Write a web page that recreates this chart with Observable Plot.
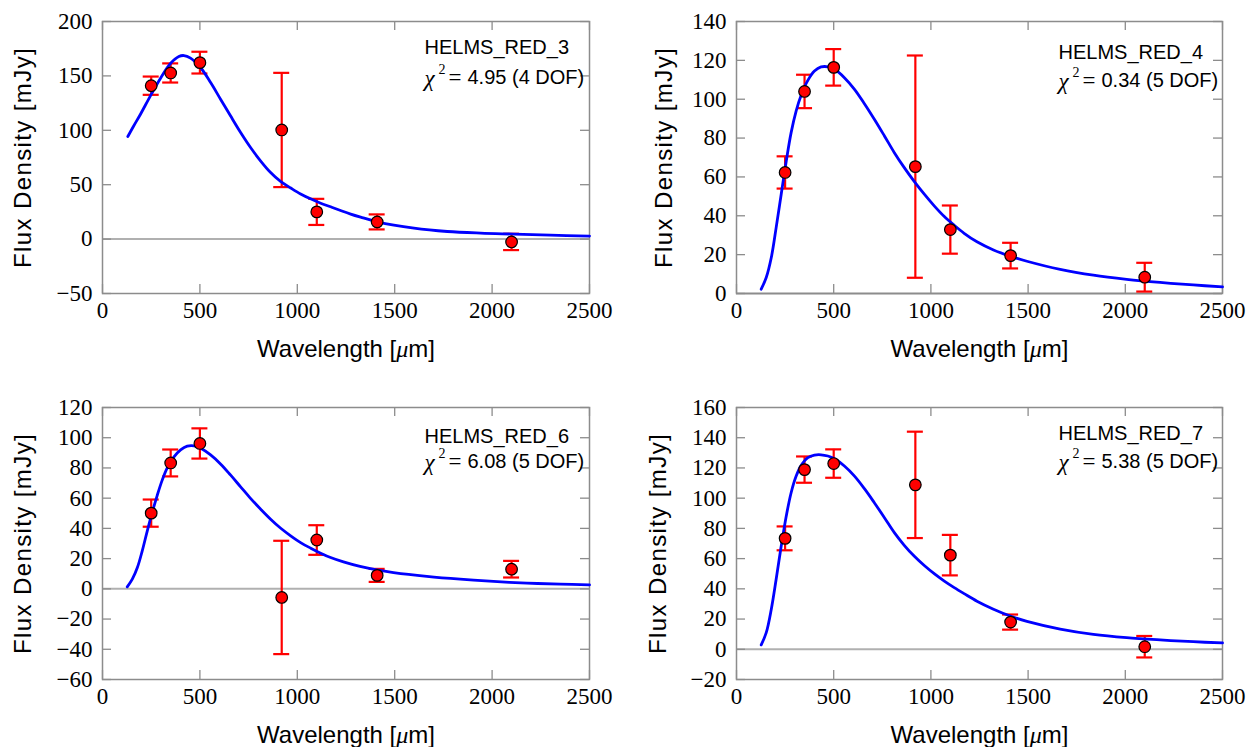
<!DOCTYPE html>
<html><head><meta charset="utf-8">
<script src="https://cdn.jsdelivr.net/npm/d3@7"></script>
<script src="https://cdn.jsdelivr.net/npm/@observablehq/plot@0.6"></script>
<style>
body{margin:0;background:#fff;}
#grid{display:grid;grid-template-columns:626px 627px;grid-template-rows:386px 361px;width:1253px;height:747px;}
#grid svg{display:block;}
</style></head><body><div id="grid"></div><script>
// ---- data ----
const wavelengths = [250, 350, 500, 920, 1100, 1410, 2100];
const xTicks = [0, 500, 1000, 1500, 2000, 2500];

const names = ["HELMS_RED_3", "HELMS_RED_4", "HELMS_RED_6", "HELMS_RED_7"];
const chiValues = ["4.95 (4 DOF)", "0.34 (5 DOF)", "6.08 (5 DOF)", "5.38 (5 DOF)"];

const flux3 = [141, 152.7, 162.2, 100.3, 25, 15.8, -2.6];
const err3 = [8.4, 8.8, 10, 52.5, 12, 6.9, 7.5];
const flux4 = [62.3, 104, 116.4, 65.3, 32.9, 19.5, 8.4];
const err4 = [8.3, 8.6, 9.4, 57.2, 12.4, 6.6, 7.4];
const flux6 = [50.1, 83.3, 96.2, -5.7, 32.3, 8.9, 13];
const err6 = [9, 8.9, 10, 37.5, 9.8, 4.3, 5.5];
const flux7 = [73.4, 118.9, 122.9, 108.8, 62.3, 18, 1.7];
const err7 = [7.9, 8.7, 9.4, 35.2, 13.4, 5, 7.1];

const modelWl3 = [130, 160, 195, 246, 298, 349, 392, 418, 452, 503, 555, 606, 657, 709, 760, 811, 863, 914, 966, 1017, 1068, 1120, 1171, 1222, 1274, 1325, 1411, 1599, 1770, 1941, 2113, 2300, 2500];
const model3 = [94.3, 104, 114.8, 131.7, 147.9, 161.4, 167.8, 168.7, 166.3, 157.7, 143.9, 128.6, 113.3, 98, 84.2, 72, 61.2, 53, 47, 41.5, 37, 33, 29.7, 26.3, 23, 20.2, 15.9, 10.1, 7, 5.5, 4.6, 3.6, 2.8];

const modelWl = [127, 153, 179, 204, 230, 256, 281, 307, 333, 367, 401, 435, 470, 504, 555, 607, 658, 709, 761, 812, 863, 915, 966, 1017, 1069, 1120, 1171, 1237, 1322, 1408, 1494, 1665, 1836, 2007, 2179, 2350, 2500];
const model4 = [2.2, 8.2, 18.5, 33.9, 51.1, 68.2, 82.8, 94, 102.2, 109.7, 114.5, 116.6, 116.7, 115.4, 111.1, 105.1, 97.7, 89.7, 81.1, 72.5, 64.8, 57.6, 51.1, 45.1, 39.6, 35.1, 31, 26.6, 22.4, 19.2, 16.6, 12.4, 9.4, 7.3, 5.7, 4.4, 3.4];
const model6 = [1.3, 6.4, 14.1, 25.1, 38.4, 50.9, 61.9, 72.1, 80.2, 87.3, 91.9, 94.4, 94.6, 93, 88.6, 82.5, 75.2, 67.5, 59.7, 52.7, 46.1, 40.1, 35.1, 30.6, 26.9, 23.6, 20.7, 17.8, 14.8, 12.5, 10.8, 8.3, 6.4, 4.9, 3.8, 3.1, 2.6];
const model7 = [2.9, 11, 26.5, 46.3, 68.3, 88.2, 103.6, 114.6, 121.7, 126.8, 128.5, 128.7, 127.9, 126.1, 121.3, 114.6, 106.3, 97, 87.1, 77.2, 68.8, 61.5, 55.4, 50, 45.1, 40.8, 36.8, 31.8, 26.5, 22, 18.5, 13.4, 9.9, 7.7, 6.2, 5, 4.2];

const yDomains = [[-50, 200], [0, 140], [-60, 120], [-20, 160]];
const yTicks3 = [-50, 0, 50, 100, 150, 200];
const yTicks4 = [0, 20, 40, 60, 80, 100, 120, 140];
const yTicks6 = [-60, -40, -20, 0, 20, 40, 60, 80, 100, 120];
const yTicks7 = [-20, 0, 20, 40, 60, 80, 100, 120, 140, 160];

const xLabel = "Wavelength [\u03bcm]";
const yLabel = "Flux Density [mJy]";

// ---- drawing ----
const panels = [
  {name: names[0], chi: chiValues[0], flux: flux3, err: err3, mwl: modelWl3, mf: model3, yDomain: yDomains[0], yTicks: yTicks3},
  {name: names[1], chi: chiValues[1], flux: flux4, err: err4, mwl: modelWl, mf: model4, yDomain: yDomains[1], yTicks: yTicks4},
  {name: names[2], chi: chiValues[2], flux: flux6, err: err6, mwl: modelWl, mf: model6, yDomain: yDomains[2], yTicks: yTicks6},
  {name: names[3], chi: chiValues[3], flux: flux7, err: err7, mwl: modelWl, mf: model7, yDomain: yDomains[3], yTicks: yTicks7}
];
const layouts = [
  {width: 626, height: 386, ml: 102, mr: 37, mt: 21, mb: 93, ylo: 79, tdy: 26, cdy: 56},
  {width: 627, height: 386, ml: 110, mr: 31, mt: 21, mb: 93, ylo: 72, tdy: 31, cdy: 59},
  {width: 626, height: 361, ml: 102, mr: 37, mt: 21, mb: 68, ylo: 79, tdy: 29, cdy: 54},
  {width: 627, height: 361, ml: 110, mr: 31, mt: 21, mb: 68, ylo: 78, tdy: 26, cdy: 54}
];

const fmt = d => d < 0 ? "\u2212" + Math.abs(d) : String(d);
const gray = "#8c8c8c";
const serif = "'Liberation Serif', 'DejaVu Serif', serif";
const sans = "'Liberation Sans', Arial, sans-serif";

function makePanel(p, L) {
  const pw = L.width - L.ml - L.mr, ph = L.height - L.mt - L.mb;
  const pts = wavelengths.map((w, i) => ({w, f: p.flux[i], lo: p.flux[i] - p.err[i], hi: p.flux[i] + p.err[i]}));
  const model = p.mwl.map((w, i) => ({w, f: p.mf[i]}));
  const ann = {frameAnchor: "top-left", textAnchor: "start", lineAnchor: "middle", fill: "#000"};
  const svg = Plot.plot({
    width: L.width, height: L.height,
    marginLeft: L.ml, marginRight: L.mr, marginTop: L.mt, marginBottom: L.mb,
    x: {domain: [0, 2500]},
    y: {domain: p.yDomain},
    style: {background: "#fff", overflow: "visible"},
    marks: [
      Plot.ruleY([0], {stroke: "#b0b0b0", strokeWidth: 2}),
      Plot.ruleX(xTicks, {x: d => d, insetTop: ph - 9, stroke: gray, strokeWidth: 1.3}),
      Plot.ruleX(xTicks, {x: d => d, insetBottom: ph - 9, stroke: gray, strokeWidth: 1.3}),
      Plot.ruleY(p.yTicks, {y: d => d, insetRight: pw - 9, stroke: gray, strokeWidth: 1.3}),
      Plot.ruleY(p.yTicks, {y: d => d, insetLeft: pw - 9, stroke: gray, strokeWidth: 1.3}),
      Plot.frame({stroke: gray, strokeWidth: 1.5}),
      Plot.axisX(xTicks, {anchor: "bottom", tickSize: 0, tickPadding: 8, fontSize: 23, fontFamily: serif, fill: "#000", tickFormat: fmt, label: null}),
      Plot.axisY(p.yTicks, {anchor: "left", tickSize: 0, tickPadding: 10, fontSize: 23, fontFamily: serif, fill: "#000", tickFormat: fmt, label: null}),
      Plot.text([xLabel], {frameAnchor: "bottom", textAnchor: "middle", dy: 56, fontSize: 24, fontFamily: sans, fill: "#000", lineAnchor: "middle"}),
      Plot.text([yLabel], {frameAnchor: "left", textAnchor: "middle", dx: -L.ylo, rotate: -90, fontSize: 24, fontFamily: sans, fill: "#000", lineAnchor: "middle"}),
      Plot.ruleX(pts, {x: "w", y1: "lo", y2: "hi", stroke: "#ff0000", strokeWidth: 2.2}),
      Plot.ruleY(pts, {y: "hi", x1: "w", x2: "w", insetLeft: -8, insetRight: -8, stroke: "#ff0000", strokeWidth: 2.2}),
      Plot.ruleY(pts, {y: "lo", x1: "w", x2: "w", insetLeft: -8, insetRight: -8, stroke: "#ff0000", strokeWidth: 2.2}),
      Plot.line(model, {x: "w", y: "f", stroke: "#0000ff", strokeWidth: 2.8, curve: "catmull-rom"}),
      Plot.dot(pts, {x: "w", y: "f", r: 5.8, fill: "#ff0000", stroke: "#000", strokeWidth: 1.2}),
      Plot.text([p.name], {...ann, dx: 322, dy: L.tdy, fontSize: 20, fontFamily: sans}),
      Plot.text(["\u03c7"], {...ann, dx: 322, dy: L.cdy + 1, fontSize: 23, fontStyle: "italic", fontFamily: serif}),
      Plot.text(["2"], {...ann, dx: 336, dy: L.cdy - 8, fontSize: 14, fontFamily: serif}),
      Plot.text(["="], {...ann, dx: 346, dy: L.cdy, fontSize: 23, fontFamily: serif}),
      Plot.text([p.chi], {...ann, dx: 365, dy: L.cdy, fontSize: 20, fontFamily: sans})
    ]
  });
  // typographic touches: wider y label, italic math mu in x label
  svg.querySelectorAll("text").forEach(t => {
    if (t.textContent === yLabel) t.style.letterSpacing = "1.4px";
    if (t.textContent === xLabel) {
      t.textContent = "";
      const ns = "http://www.w3.org/2000/svg";
      const a = document.createElementNS(ns, "tspan"); a.textContent = "Wavelength [";
      const m = document.createElementNS(ns, "tspan"); m.textContent = "\u03bc";
      m.setAttribute("font-family", serif); m.setAttribute("font-style", "italic");
      const b = document.createElementNS(ns, "tspan"); b.textContent = "m]";
      t.append(a, m, b);
    }
  });
  return svg;
}

const grid = document.getElementById("grid");
panels.forEach((p, i) => grid.appendChild(makePanel(p, layouts[i])));
</script></body></html>
